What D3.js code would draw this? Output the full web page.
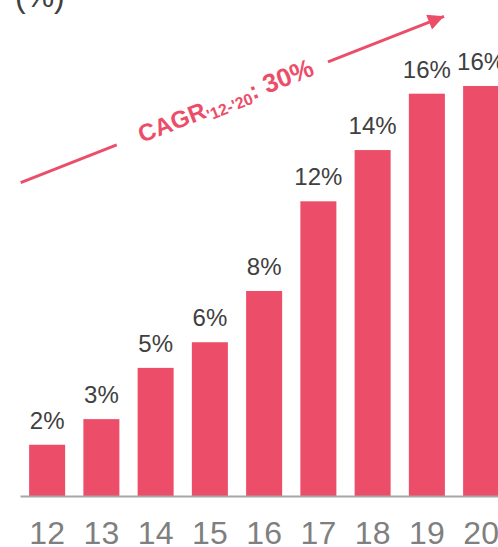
<!DOCTYPE html>
<html>
<head>
<meta charset="utf-8">
<script src="https://cdn.jsdelivr.net/npm/d3@7"></script>
<style>
  html, body { margin: 0; padding: 0; background: #fff; overflow: hidden; }
  svg { display: block; font-family: Arial, "Liberation Sans", sans-serif; }
</style>
</head>
<body>
<svg id="chart" width="498" height="547"></svg>
<script>
// Share by year, in percent
const years = ["12", "13", "14", "15", "16", "17", "18", "19", "20"];
const shares = [2.0, 3.0, 5.0, 6.0, 8.0, 11.5, 13.5, 15.7, 16.0];
const unitLabel = "(%)";
const cagrValue = "30%";

const barColor = "#ec4e6a";
const svg = d3.select("#chart");

const x = d3.scaleBand()
  .domain(years)
  .range([20, 508.25])
  .paddingInner(0.336)
  .paddingOuter(0.168);

const y = d3.scaleLinear()
  .domain([0, 16])
  .range([496, 86]);

// unit label, partly above the top edge
svg.append("text")
  .attr("x", 15)
  .attr("y", 7)
  .attr("font-size", 32)
  .attr("fill", "#404040")
  .text(unitLabel);

// bars
svg.append("g")
  .selectAll("rect")
  .data(years)
  .join("rect")
  .attr("x", d => x(d))
  .attr("width", x.bandwidth())
  .attr("y", (d, i) => y(shares[i]))
  .attr("height", (d, i) => y(0) - y(shares[i]))
  .attr("fill", barColor);

// value labels
svg.append("g")
  .selectAll("text")
  .data(years)
  .join("text")
  .attr("x", d => x(d) + x.bandwidth() / 2)
  .attr("y", (d, i) => y(shares[i]) - 16)
  .attr("text-anchor", "middle")
  .attr("font-size", 24)
  .attr("fill", "#404040")
  .text((d, i) => Math.round(shares[i]) + "%");

// baseline axis with year labels
const xAxis = svg.append("g")
  .attr("transform", `translate(0,${y(0)})`)
  .call(d3.axisBottom(x).tickSize(0).tickPadding(25));
xAxis.select(".domain")
  .attr("stroke", "#a6a6a6")
  .attr("stroke-width", 2);
xAxis.selectAll(".tick text")
  .attr("font-family", "Arial, 'Liberation Sans', sans-serif")
  .attr("font-size", 32)
  .attr("fill", "#7f7f7f")
  .attr("dy", "0.71em");

// growth arrow, broken where the CAGR label sits
const arrowStart = [20.7, 182.7];
const arrowEnd = [460, 10];
const slope = (arrowEnd[1] - arrowStart[1]) / (arrowEnd[0] - arrowStart[0]);
const angle = Math.atan(slope) * 180 / Math.PI;
const pointAt = px => [px, arrowStart[1] + slope * (px - arrowStart[0])];

svg.append("defs").append("marker")
  .attr("id", "head")
  .attr("viewBox", "0 0 10 10")
  .attr("refX", 10)
  .attr("refY", 5)
  .attr("markerUnits", "userSpaceOnUse")
  .attr("markerWidth", 19)
  .attr("markerHeight", 16)
  .attr("orient", "auto")
  .append("path")
  .attr("d", "M0,0 L10,5 L0,10 Z")
  .attr("fill", barColor);

const line = d3.line();
svg.append("path")
  .attr("d", line([arrowStart, pointAt(116.7)]))
  .attr("stroke", barColor)
  .attr("stroke-width", 3)
  .attr("fill", "none");
svg.append("path")
  .attr("d", line([pointAt(328), pointAt(444)]))
  .attr("stroke", barColor)
  .attr("stroke-width", 3)
  .attr("fill", "none")
  .attr("marker-end", "url(#head)");

// CAGR label along the arrow
const cagr = svg.append("text")
  .attr("transform", `translate(142,143) rotate(${angle})`)
  .attr("fill", barColor)
  .attr("font-weight", "bold");
cagr.append("tspan").attr("font-size", 24).text("CAGR");
cagr.append("tspan").attr("font-size", 16).attr("dy", 4).text("'12-'20");
cagr.append("tspan").attr("font-size", 24).attr("dy", -4).text(":");
cagr.append("tspan").attr("font-size", 26).text(" " + cagrValue);
</script>
</body>
</html>
